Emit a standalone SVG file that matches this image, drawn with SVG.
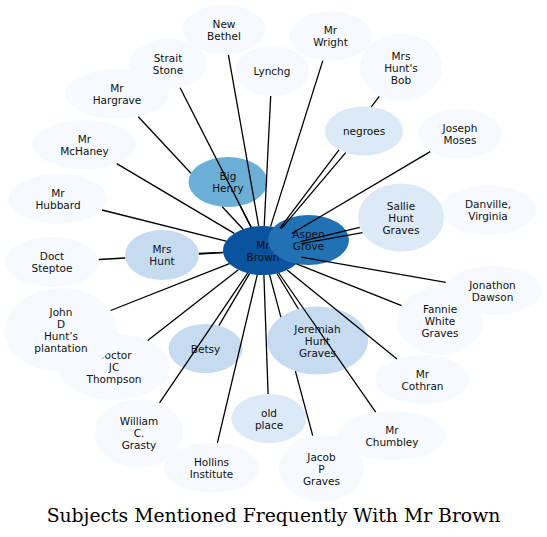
<svg xmlns="http://www.w3.org/2000/svg" width="547" height="537" viewBox="0 0 547 537">
<style>
.c0{fill:#f6faff}.c1{fill:#dce9f6}.c2{fill:#c6dbef}.c4{fill:#6baed6}.c6{fill:#2171b5}.c7{fill:#0a539e}
.n text{font-family:"DejaVu Sans","Liberation Sans",sans-serif;font-size:10.5px;text-anchor:middle;fill:#111}
#edges line{stroke:#000;stroke-width:1.3;stroke-linecap:butt}
.title{font-family:"DejaVu Serif","Liberation Serif",serif;font-size:18.8px;text-anchor:middle;fill:#000}
</style>
<rect width="547" height="537" fill="#fff"/>
<g id="nodes">
<g id="mr-brown" class="n"><ellipse class="c7" cx="263" cy="250.5" rx="40" ry="24.5"/><text x="263" y="248.5">Mr</text><text x="263" y="260.5">Brown</text></g>
<g id="aspen-grove" class="n"><ellipse class="c6" cx="308.5" cy="240" rx="40.5" ry="25"/><text x="308.5" y="238">Aspen</text><text x="308.5" y="250">Grove</text></g>
<g id="big-henry" class="n"><ellipse class="c4" cx="228" cy="182" rx="39.5" ry="25"/><text x="228" y="180">Big</text><text x="228" y="192">Henry</text></g>
<g id="mrs-hunt" class="n"><ellipse class="c2" cx="162" cy="255" rx="37" ry="25"/><text x="162" y="253">Mrs</text><text x="162" y="265">Hunt</text></g>
<g id="betsy" class="n"><ellipse class="c2" cx="205.5" cy="348.5" rx="37" ry="24.5"/><text x="205.5" y="352.5">Betsy</text></g>
<g id="jeremiah" class="n"><ellipse class="c2" cx="317.5" cy="340.5" rx="50.5" ry="34"/><text x="317.5" y="332.5">Jeremiah</text><text x="317.5" y="344.5">Hunt</text><text x="317.5" y="356.5">Graves</text></g>
<g id="negroes" class="n"><ellipse class="c1" cx="364" cy="131" rx="39" ry="24.5"/><text x="364" y="135">negroes</text></g>
<g id="danville" class="n"><ellipse class="c0" cx="488" cy="210" rx="48" ry="25"/><text x="488" y="208">Danville,</text><text x="488" y="220">Virginia</text></g>
<g id="sallie" class="n"><ellipse class="c1" cx="401" cy="217.5" rx="43" ry="34"/><text x="401" y="209.5">Sallie</text><text x="401" y="221.5">Hunt</text><text x="401" y="233.5">Graves</text></g>
<g id="old-place" class="n"><ellipse class="c1" cx="269" cy="418.5" rx="37.5" ry="24.5"/><text x="269" y="416.5">old</text><text x="269" y="428.5">place</text></g>
<g id="new-bethel" class="n"><ellipse class="c0" cx="224" cy="29.5" rx="41" ry="24.5"/><text x="224" y="27.5">New</text><text x="224" y="39.5">Bethel</text></g>
<g id="mr-wright" class="n"><ellipse class="c0" cx="330.5" cy="36" rx="41" ry="25"/><text x="330.5" y="34">Mr</text><text x="330.5" y="46">Wright</text></g>
<g id="strait-stone" class="n"><ellipse class="c0" cx="168" cy="64" rx="39" ry="25"/><text x="168" y="62">Strait</text><text x="168" y="74">Stone</text></g>
<g id="lynchg" class="n"><ellipse class="c0" cx="272" cy="71" rx="37" ry="25"/><text x="272" y="75">Lynchg</text></g>
<g id="mrs-hunts-bob" class="n"><ellipse class="c0" cx="401" cy="67.5" rx="41" ry="34"/><text x="401" y="59.5">Mrs</text><text x="401" y="71.5">Hunt's</text><text x="401" y="83.5">Bob</text></g>
<g id="mr-hargrave" class="n"><ellipse class="c0" cx="117" cy="94" rx="52" ry="25"/><text x="117" y="92">Mr</text><text x="117" y="104">Hargrave</text></g>
<g id="joseph-moses" class="n"><ellipse class="c0" cx="460" cy="134" rx="42" ry="25"/><text x="460" y="132">Joseph</text><text x="460" y="144">Moses</text></g>
<g id="mr-mchaney" class="n"><ellipse class="c0" cx="84.5" cy="144.5" rx="51.5" ry="24.5"/><text x="84.5" y="142.5">Mr</text><text x="84.5" y="154.5">McHaney</text></g>
<g id="mr-hubbard" class="n"><ellipse class="c0" cx="58" cy="199" rx="49" ry="25"/><text x="58" y="197">Mr</text><text x="58" y="209">Hubbard</text></g>
<g id="doct-steptoe" class="n"><ellipse class="c0" cx="52" cy="262" rx="47" ry="25"/><text x="52" y="260">Doct</text><text x="52" y="272">Steptoe</text></g>
<g id="fannie" class="n"><ellipse class="c0" cx="440" cy="321" rx="43" ry="34"/><text x="440" y="313">Fannie</text><text x="440" y="325">White</text><text x="440" y="337">Graves</text></g>
<g id="jonathon-dawson" class="n"><ellipse class="c0" cx="492.5" cy="290.5" rx="49.5" ry="24.5"/><text x="492.5" y="288.5">Jonathon</text><text x="492.5" y="300.5">Dawson</text></g>
<g id="mr-cothran" class="n"><ellipse class="c0" cx="422.5" cy="379.5" rx="47" ry="24.5"/><text x="422.5" y="377.5">Mr</text><text x="422.5" y="389.5">Cothran</text></g>
<g id="doctor-jc-thompson" class="n"><ellipse class="c0" cx="114" cy="367" rx="56" ry="33"/><text x="114" y="359">Doctor</text><text x="114" y="371">JC</text><text x="114" y="383">Thompson</text></g>
<g id="john-d-hunts-plantation" class="n"><ellipse class="c0" cx="61" cy="330" rx="56" ry="42"/><text x="61" y="316">John</text><text x="61" y="328">D</text><text x="61" y="340">Hunt’s</text><text x="61" y="352">plantation</text></g>
<g id="william-c-grasty" class="n"><ellipse class="c0" cx="139" cy="433" rx="44" ry="34"/><text x="139" y="425">William</text><text x="139" y="437">C.</text><text x="139" y="449">Grasty</text></g>
<g id="hollins-institute" class="n"><ellipse class="c0" cx="211.5" cy="467.7" rx="47.5" ry="25"/><text x="211.5" y="465.7">Hollins</text><text x="211.5" y="477.7">Institute</text></g>
<g id="jacob-p-graves" class="n"><ellipse class="c0" cx="321.5" cy="468.5" rx="42.5" ry="33.5"/><text x="321.5" y="460.5">Jacob</text><text x="321.5" y="472.5">P</text><text x="321.5" y="484.5">Graves</text></g>
<g id="mr-chumbley" class="n"><ellipse class="c0" cx="392" cy="435.5" rx="54" ry="24.5"/><text x="392" y="433.5">Mr</text><text x="392" y="445.5">Chumbley</text></g>
</g>
<g id="edges">
<line x1="258.7" y1="226.1" x2="228.4" y2="54.9"/>
<line x1="251.1" y1="227.1" x2="180.1" y2="87.8"/>
<line x1="264.2" y1="226.0" x2="270.7" y2="96.0"/>
<line x1="270.6" y1="226.4" x2="322.8" y2="60.6"/>
<line x1="243.2" y1="229.2" x2="222.2" y2="206.7"/>
<line x1="191.0" y1="173.3" x2="138.3" y2="116.8"/>
<line x1="234.3" y1="233.4" x2="116.7" y2="163.6"/>
<line x1="226.0" y1="241.2" x2="102.0" y2="210.0"/>
<line x1="223.1" y1="252.3" x2="198.9" y2="253.4"/>
<line x1="223.2" y1="252.7" x2="199.0" y2="254.0"/>
<line x1="125.2" y1="258.0" x2="98.8" y2="259.5"/>
<line x1="251.1" y1="227.1" x2="240.2" y2="205.8"/>
<line x1="281.4" y1="228.7" x2="345.7" y2="152.6"/>
<line x1="279.8" y1="228.3" x2="339.0" y2="149.8"/>
<line x1="371.3" y1="106.9" x2="379.3" y2="96.3"/>
<line x1="291.8" y1="233.5" x2="430.2" y2="151.6"/>
<line x1="300.3" y1="241.6" x2="359.8" y2="227.3"/>
<line x1="301.4" y1="243.6" x2="362.5" y2="232.6"/>
<line x1="301.5" y1="257.2" x2="445.8" y2="282.4"/>
<line x1="296.5" y1="263.9" x2="401.6" y2="305.7"/>
<line x1="287.1" y1="270.0" x2="397.0" y2="358.9"/>
<line x1="278.7" y1="273.0" x2="375.7" y2="412.1"/>
<line x1="269.5" y1="274.7" x2="280.9" y2="317.1"/>
<line x1="295.4" y1="371.1" x2="312.7" y2="435.7"/>
<line x1="276.9" y1="273.5" x2="298.4" y2="309.0"/>
<line x1="263.9" y1="275.0" x2="268.1" y2="394.0"/>
<line x1="257.3" y1="274.7" x2="217.4" y2="442.9"/>
<line x1="249.5" y1="273.6" x2="218.9" y2="325.7"/>
<line x1="247.6" y1="273.1" x2="159.5" y2="402.9"/>
<line x1="238.3" y1="269.8" x2="147.7" y2="340.6"/>
<line x1="229.4" y1="263.7" x2="110.6" y2="310.5"/>
</g>
<text class="title" x="273.5" y="522">Subjects Mentioned Frequently With Mr Brown</text>
</svg>
